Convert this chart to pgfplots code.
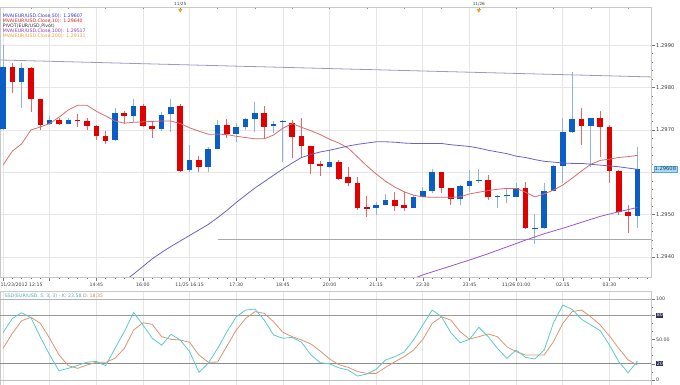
\documentclass[border=0pt]{standalone}
\usepackage{pgfplots}
\pgfplotsset{compat=1.18}
\usepackage{pgfplotstable}
\usepackage{fontspec}
\setmainfont{DejaVu Sans}
\definecolor{upbody}{HTML}{0B5EC6}
\definecolor{downbody}{HTML}{E00000}
\definecolor{upwick}{HTML}{8DB6D8}
\definecolor{downwick}{HTML}{E26A6A}
\definecolor{maten}{HTML}{D86A6A}
\definecolor{mafifty}{HTML}{6A62C4}
\definecolor{mahundred}{HTML}{9A55D0}
\definecolor{topline}{HTML}{9A9AC8}
\definecolor{pivotgray}{HTML}{A8A8A8}
\definecolor{kcol}{HTML}{5CCACC}
\definecolor{dcol}{HTML}{D99570}
\definecolor{gridgray}{HTML}{E6E6E6}
\definecolor{axisgray}{HTML}{C8C8C8}
\definecolor{labelgray}{HTML}{3C3C3C}
\definecolor{boxblue}{HTML}{A9DAF3}
\definecolor{boxborder}{HTML}{5AA8D8}
\definecolor{boxtext}{HTML}{1B3F6E}
\definecolor{darkbox}{HTML}{2F2F5C}
\definecolor{markorange}{HTML}{F0A020}
\definecolor{legfifty}{HTML}{3333CC}
\definecolor{legten}{HTML}{DD2222}
\definecolor{leghundred}{HTML}{8833CC}
\definecolor{legtwohundred}{HTML}{E8A030}
\newcommand\tickfont{\fontsize{4.7bp}{5bp}\selectfont}
\newcommand\ytickfont{\fontsize{5.2bp}{6bp}\selectfont}
\newcommand\legfont{\fontsize{4.7bp}{5bp}\selectfont}
\newcommand\dbox[1]{{\setlength{\fboxsep}{0.6bp}\colorbox{darkbox}{\textcolor{white}{#1}}}}

\pgfplotstableread{
i o h l c
0 1.29701 1.29900 1.29700 1.29849
2 1.29813 1.29857 1.29751 1.29847
5 1.29713 1.29733 1.29711 1.29723
7 1.29714 1.29729 1.29713 1.29723
12 1.29676 1.29751 1.29675 1.29740
14 1.29733 1.29774 1.29719 1.29756
17 1.29703 1.29743 1.29697 1.29736
18 1.29737 1.29772 1.29696 1.29754
20 1.29605 1.29664 1.29600 1.29629
22 1.29613 1.29659 1.29600 1.29656
23 1.29656 1.29723 1.29655 1.29711
25 1.29690 1.29717 1.29672 1.29706
26 1.29706 1.29729 1.29700 1.29725
27 1.29725 1.29766 1.29696 1.29740
29 1.29709 1.29721 1.29692 1.29715
30 1.29718 1.29723 1.29625 1.29721
35 1.29613 1.29652 1.29609 1.29625
40 1.29515 1.29529 1.29499 1.29524
41 1.29524 1.29548 1.29523 1.29534
44 1.29516 1.29546 1.29515 1.29542
45 1.29542 1.29566 1.29541 1.29556
46 1.29556 1.29607 1.29550 1.29600
49 1.29536 1.29570 1.29523 1.29568
50 1.29568 1.29605 1.29554 1.29580
51 1.29580 1.29607 1.29574 1.29583
53 1.29541 1.29546 1.29516 1.29544
54 1.29543 1.29562 1.29527 1.29546
55 1.29542 1.29574 1.29541 1.29564
57 1.29466 1.29501 1.29430 1.29469
58 1.29468 1.29575 1.29467 1.29556
59 1.29556 1.29617 1.29556 1.29615
60 1.29615 1.29729 1.29575 1.29696
61 1.29695 1.29836 1.29692 1.29726
63 1.29709 1.29729 1.29613 1.29729
68 1.29497 1.29660 1.29468 1.29608
}\upcandles

\pgfplotstableread{
i o h l c
1 1.29849 1.29857 1.29786 1.29813
3 1.29847 1.29849 1.29743 1.29772
4 1.29772 1.29773 1.29700 1.29711
6 1.29723 1.29727 1.29711 1.29714
8 1.29723 1.29737 1.29707 1.29720
9 1.29720 1.29729 1.29700 1.29709
10 1.29709 1.29711 1.29676 1.29686
11 1.29686 1.29698 1.29667 1.29674
13 1.29740 1.29745 1.29715 1.29733
15 1.29756 1.29761 1.29707 1.29709
16 1.29709 1.29719 1.29680 1.29703
19 1.29756 1.29761 1.29600 1.29604
21 1.29629 1.29638 1.29600 1.29613
24 1.29711 1.29725 1.29682 1.29690
28 1.29740 1.29756 1.29678 1.29707
31 1.29717 1.29723 1.29634 1.29684
32 1.29685 1.29728 1.29637 1.29663
33 1.29663 1.29663 1.29595 1.29619
34 1.29619 1.29627 1.29591 1.29615
36 1.29625 1.29629 1.29582 1.29584
37 1.29588 1.29612 1.29567 1.29574
38 1.29574 1.29588 1.29511 1.29515
39 1.29517 1.29544 1.29494 1.29514
42 1.29534 1.29553 1.29509 1.29521
43 1.29522 1.29553 1.29509 1.29516
47 1.29600 1.29600 1.29550 1.29562
48 1.29562 1.29563 1.29523 1.29536
52 1.29583 1.29593 1.29534 1.29541
56 1.29564 1.29578 1.29467 1.29468
62 1.29726 1.29751 1.29664 1.29709
64 1.29729 1.29744 1.29637 1.29706
65 1.29707 1.29711 1.29575 1.29603
66 1.29604 1.29605 1.29499 1.29507
67 1.29507 1.29524 1.29457 1.29497
}\downcandles

\pgfplotstableread{
i v
0 1.29617
1 1.29650
2 1.29667
3 1.29700
4 1.29707
5 1.29715
6 1.29730
7 1.29747
8 1.29758
9 1.29758
10 1.29744
11 1.29733
12 1.29721
13 1.29716
14 1.29718
15 1.29719
16 1.29720
17 1.29721
18 1.29721
19 1.29715
20 1.29705
21 1.29697
22 1.29690
23 1.29690
24 1.29689
25 1.29685
26 1.29682
27 1.29679
28 1.29679
29 1.29688
30 1.29704
31 1.29715
32 1.29706
33 1.29698
34 1.29689
35 1.29678
36 1.29669
37 1.29657
38 1.29636
39 1.29615
40 1.29596
41 1.29579
42 1.29565
43 1.29554
44 1.29546
45 1.29542
46 1.29541
47 1.29541
48 1.29541
49 1.29542
50 1.29549
51 1.29553
52 1.29557
53 1.29560
54 1.29562
55 1.29562
56 1.29553
57 1.29542
58 1.29549
59 1.29558
60 1.29570
61 1.29586
62 1.29603
63 1.29619
64 1.29628
65 1.29631
66 1.29635
67 1.29637
68 1.29640
}\maten

\pgfplotstableread{
i v
13 1.29343
14 1.29360
15 1.29378
16 1.29396
17 1.29411
18 1.29425
19 1.29438
20 1.29451
21 1.29464
22 1.29477
23 1.29493
24 1.29510
25 1.29529
26 1.29546
27 1.29563
28 1.29578
29 1.29593
30 1.29608
31 1.29622
32 1.29635
33 1.29642
34 1.29648
35 1.29652
36 1.29657
37 1.29662
38 1.29666
39 1.29669
40 1.29672
41 1.29672
42 1.29671
43 1.29669
44 1.29668
45 1.29668
46 1.29668
47 1.29668
48 1.29665
49 1.29663
50 1.29661
51 1.29657
52 1.29652
53 1.29648
54 1.29644
55 1.29638
56 1.29635
57 1.29630
58 1.29626
59 1.29624
60 1.29622
61 1.29621
62 1.29621
63 1.29619
64 1.29617
65 1.29615
66 1.29613
67 1.29610
68 1.29607
}\mafifty

\pgfplotstableread{
i v
44 1.29349
45 1.29358
46 1.29365
47 1.29372
48 1.29379
50 1.29393
52 1.29408
54 1.29424
56 1.29440
58 1.29455
60 1.29468
62 1.29482
64 1.29496
66 1.29507
68 1.29517
}\mahundred

\pgfplotstableread{
i k d
0 58.4 39
1 76 57.6
2 83 73.2
3 77 77.4
4 53 70
5 31 51.5
6 11.5 31
7 14.4 17.7
8 18 14.4
9 22 18.5
10 23 21.8
11 17.7 21.8
12 39 26.8
13 59.6 39
14 83.5 61.7
15 68 70.7
16 51.5 68.7
17 43 53.5
18 56.4 50.2
19 49.4 49.4
20 35 46.5
21 9.5 30.9
22 20.6 21.8
23 39 22.2
24 59.6 42
25 78 61.7
26 86.4 76
27 87.6 84.4
28 74 82.3
29 55.6 72
30 51.5 58.8
31 52.7 53.5
32 46.5 49.4
33 31 44.4
34 21.4 35.8
35 20 26
36 15 19
37 12.3 15.6
38 4.9 10.3
39 7.4 8.2
40 13.2 8.2
41 24.7 15.6
42 28.8 22.6
43 34.6 28.8
44 49.4 37
45 68 50.2
46 86.4 70
47 78 78
48 58.4 74
49 46 59.6
50 50.2 50.6
51 65 53.5
52 53.5 56.8
53 39 53.5
54 26.8 41
55 37 35
56 28 30.9
57 25.9 30.9
58 37 30.9
59 70.7 47.3
60 92.6 70
61 87.2 84.4
62 75 86.4
63 68 78
64 61 68
65 43 54.3
66 22.6 39
67 9 24.7
68 23.58 18.35
}\stoch

\begin{document}
\begin{tikzpicture}
\useasboundingbox (0bp,0bp) rectangle (680bp,385bp);
% ---------- price panel ----------
\begin{axis}[
  at={(0bp,108bp)}, anchor=south west, scale only axis,
  width=651bp, height=270bp,
  xmin=-0.3215, xmax=69.45, ymin=1.29353, ymax=1.29990,
  scaled y ticks=false,
  axis line style={draw=axisgray, line width=0.6bp},
  xtick={0,5,...,65},
  minor xtick={0,1,...,69},
  xticklabels={\makebox[0pt][l]{\hspace{-2.5bp}11/23/2012 12:15},,14:45,16:00,11/25 16:15,17:30,18:45,20:00,21:15,22:30,23:45,11/26 01:00,02:15,03:30},
  xtick pos=bottom,
  ytick={1.294,1.295,1.296,1.297,1.298,1.299},
  yticklabels={1.2940,1.2950,,1.2970,1.2980,1.2990},
  minor y tick num=4,
  ytick pos=right, yticklabel pos=right,
  tick align=outside,
  major tick length=4bp, minor tick length=2bp,
  every tick/.style={draw=labelgray!70, line width=0.45bp},
  grid=major, major grid style={draw=gridgray, line width=0.8bp},
  xticklabel style={font=\tickfont, text=labelgray, anchor=north, inner sep=0pt, yshift=-1.5bp},
  yticklabel style={font=\ytickfont, text=labelgray, anchor=west, inner sep=0pt, xshift=1bp},
  extra y ticks={1.29608},
  extra y tick labels={1.29608},
  extra y tick style={grid=none, major tick length=0bp,
     yticklabel style={fill=boxblue, draw=boxborder, line width=0.4bp, inner sep=0.9bp, text=boxtext, font=\ytickfont, xshift=1.5bp}},
  candle/.style={draw=none, no markers, forget plot,
     error bars/y dir=plus, error bars/y explicit, error bars/error mark=none},
]
% pivot and upper line
\addplot[pivotgray, line width=0.8bp, forget plot] coordinates {(23,1.29442) (69.45,1.29442)};
\addplot[topline, line width=0.8bp, forget plot] coordinates {(-0.32,1.29865) (69.45,1.29825)};
% wicks
\addplot[candle, error bars/error bar style={draw=upwick, line width=0.9bp}]
  table[x=i, y=l, y error plus expr={\thisrow{h}-\thisrow{l}}] {\upcandles};
\addplot[candle, error bars/error bar style={draw=downwick, line width=0.9bp}]
  table[x=i, y=l, y error plus expr={\thisrow{h}-\thisrow{l}}] {\downcandles};
% bodies
\addplot[candle, error bars/error bar style={draw=upbody, line width=5.6bp}]
  table[x=i, y=o, y error plus expr={\thisrow{c}-\thisrow{o}}] {\upcandles};
\addplot[candle, error bars/error bar style={draw=downbody, line width=5.6bp}]
  table[x=i, y=c, y error plus expr={\thisrow{o}-\thisrow{c}}] {\downcandles};
% moving averages
\addplot[maten, line width=0.8bp, forget plot] table[x=i, y=v] {\maten};
\addplot[mafifty, line width=0.8bp, forget plot] table[x=i, y=v] {\mafifty};
\addplot[mahundred, line width=0.8bp, forget plot] table[x=i, y=v] {\mahundred};
\node[anchor=north west, inner sep=0pt, align=left, font=\legfont] at (rel axis cs:0.004,0.975)
  {\textcolor{legfifty}{MVA(EUR/USD.Close,50): 1.29607}\\
   \textcolor{legten}{MVA(EUR/USD.Close,10): 1.29640}\\
   \textcolor{black!80}{PIVOT(EUR/USD,Pivot)}\\
   \textcolor{leghundred}{MVA(EUR/USD.Close,100): 1.29517}\\
   \textcolor{legtwohundred}{MVA(EUR/USD.Close,200): 1.29131}};
\end{axis}
% ---------- day markers on top ----------
\begin{axis}[
  at={(0bp,108bp)}, anchor=south west, scale only axis,
  width=651bp, height=270bp,
  xmin=-0.3215, xmax=69.45, ymin=0, ymax=1,
  axis x line*=top, axis y line=none,
  axis line style={draw=axisgray, line width=0.6bp},
  xtick={19,51}, xticklabels={11/25,11/26},
  minor xtick={3,7,...,67},
  tick align=inside,
  major tick length=2.5bp, minor tick length=2bp,
  every tick/.style={draw=labelgray!60, line width=0.45bp},
  xticklabel style={font=\fontsize{4.2bp}{5bp}\selectfont, text=labelgray, anchor=south, inner sep=0pt, yshift=0.8bp},
  clip=false,
]
\addplot[only marks, mark=triangle*, mark size=2bp, mark options={rotate=180, fill=markorange, draw=markorange}]
  coordinates {(19,0.988) (51,0.988)};
\end{axis}
% ---------- stochastic panel ----------
\begin{axis}[
  at={(0bp,0bp)}, anchor=south west, scale only axis,
  width=651bp, height=94bp,
  xmin=-0.3215, xmax=69.45, ymin=-6.17, ymax=109.9,
  axis line style={draw=axisgray, line width=0.6bp},
  xtick={0,5,...,65}, xticklabels={}, xmajorgrids,
  major x grid style={draw=gridgray, line width=0.8bp},
  xtick style={draw=none},
  ytick={0,20,50,80,100},
  yticklabels={0,\dbox{20},50.00,\dbox{80},100},
  minor ytick={10,30,40,60,70,90},
  ytick pos=right, yticklabel pos=right,
  tick align=outside,
  major tick length=4bp, minor tick length=2bp,
  ytick style={draw=labelgray!70, line width=0.45bp},
  yticklabel style={font=\tickfont, text=labelgray, anchor=west, inner sep=0pt, xshift=1bp},
]
\addplot[black!30, line width=0.6bp, forget plot] coordinates {(-1,100) (70,100)};
\addplot[black!40, line width=1.2bp, forget plot] coordinates {(-1,80) (70,80)};
\addplot[black!45, line width=0.8bp, forget plot] coordinates {(-1,20) (70,20)};
\addplot[black!25, line width=0.6bp, forget plot] coordinates {(-1,0) (70,0)};
\addplot[dcol, line width=0.8bp] table[x=i, y=d] {\stoch};
\addplot[kcol, line width=0.8bp] table[x=i, y=k] {\stoch};
\node[anchor=west, inner sep=0pt, font=\legfont] at (rel axis cs:0.007,0.942)
  {\textcolor{kcol!85!black}{SSD(EUR/USD, 5, 3, 3) - K: 23.58} \textcolor{dcol!90!black}{D: 18.35}};
\end{axis}
\end{tikzpicture}
\end{document}
